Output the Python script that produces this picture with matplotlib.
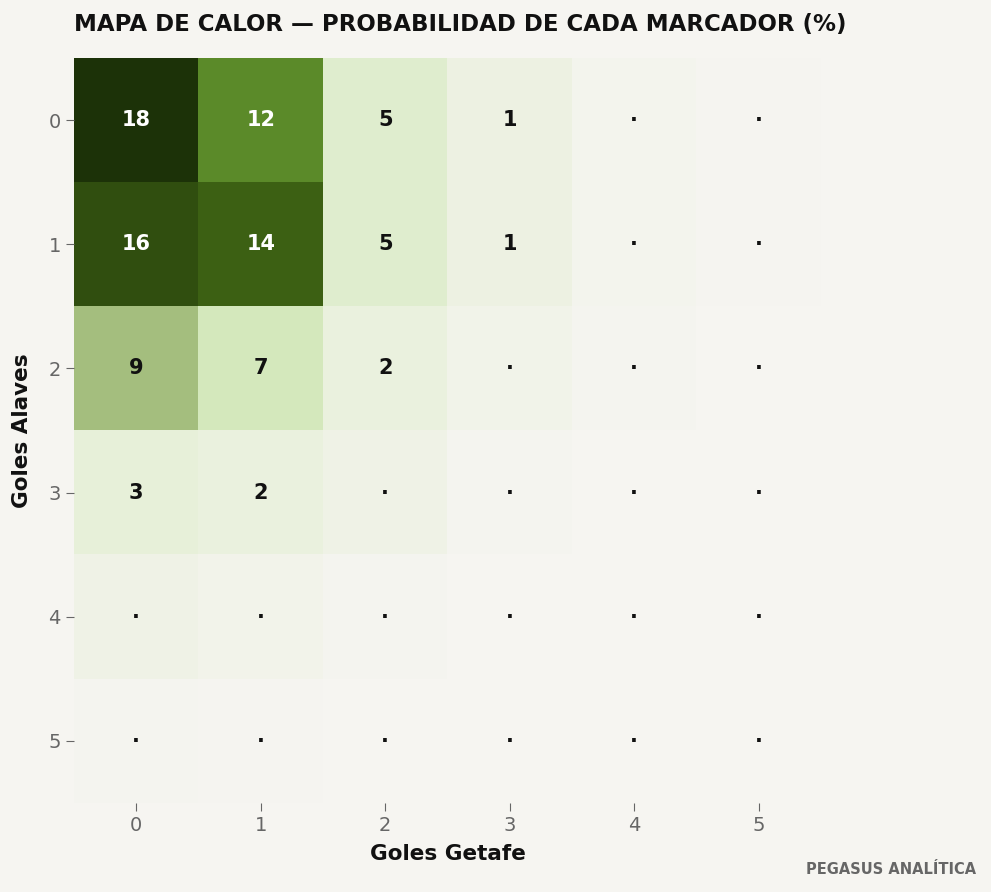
import numpy as np
import matplotlib.pyplot as plt
from matplotlib.colors import LinearSegmentedColormap

goles = [0, 1, 2, 3, 4, 5]
# probabilidad (%) filas = goles Alaves, columnas = goles Getafe
prob = np.array([
    [18.0, 12.0, 5.0, 1.2, 0.3, 0.1],
    [16.0, 14.0, 5.0, 1.2, 0.3, 0.1],
    [9.0, 7.0, 2.0, 0.6, 0.15, 0.03],
    [3.0, 2.0, 0.8, 0.2, 0.05, 0.01],
    [0.8, 0.5, 0.2, 0.05, 0.01, 0.0],
    [0.2, 0.1, 0.05, 0.01, 0.0, 0.0],
])

bg = '#f6f5f1'
stops = [(0, bg), (1/18, '#eef2e4'), (5/18, '#e0eecf'), (7/18, '#d4e8bc'),
         (9/18, '#a5bf7f'), (12/18, '#5b8a2a'), (14/18, '#3d6114'),
         (16/18, '#314f10'), (1, '#1c3208')]
cmap = LinearSegmentedColormap.from_list('verde', stops)

fig = plt.figure(figsize=(9.91, 8.92), dpi=100, facecolor=bg)
ax = fig.add_axes([74/991, 89/892, 747/991, 745/892])
ax.set_facecolor(bg)
ax.imshow(prob, cmap=cmap, vmin=0, vmax=18, aspect='auto')

for i in range(6):
    for j in range(6):
        v = prob[i, j]
        txt = f'{v:.0f}' if v >= 1 else '·'
        col = 'white' if v >= 10 else '#111111'
        ax.text(j, i, txt, ha='center', va='center', fontsize=15,
                fontweight='bold', color=col)

ax.set_xticks(range(6), goles)
ax.set_yticks(range(6), goles)
ax.tick_params(colors='#666666', labelsize=14, length=6)
for s in ax.spines.values():
    s.set_visible(False)
ax.set_xlabel('Goles Getafe', fontsize=15.5, fontweight='bold', color='#111111', labelpad=6)
ax.set_ylabel('Goles Alaves', fontsize=15.5, fontweight='bold', color='#111111', labelpad=12)
fig.text(74/991, 1 - 25/892, 'MAPA DE CALOR — PROBABILIDAD DE CADA MARCADOR (%)',
         fontsize=16.5, fontweight='bold', color='#111111', va='center')
fig.text(976/991, 1 - 869/892, 'PEGASUS ANALÍTICA', fontsize=10.5,
         fontweight='bold', color='#666666', ha='right', va='center')
fig.savefig('out.png', dpi=100, facecolor=bg)
